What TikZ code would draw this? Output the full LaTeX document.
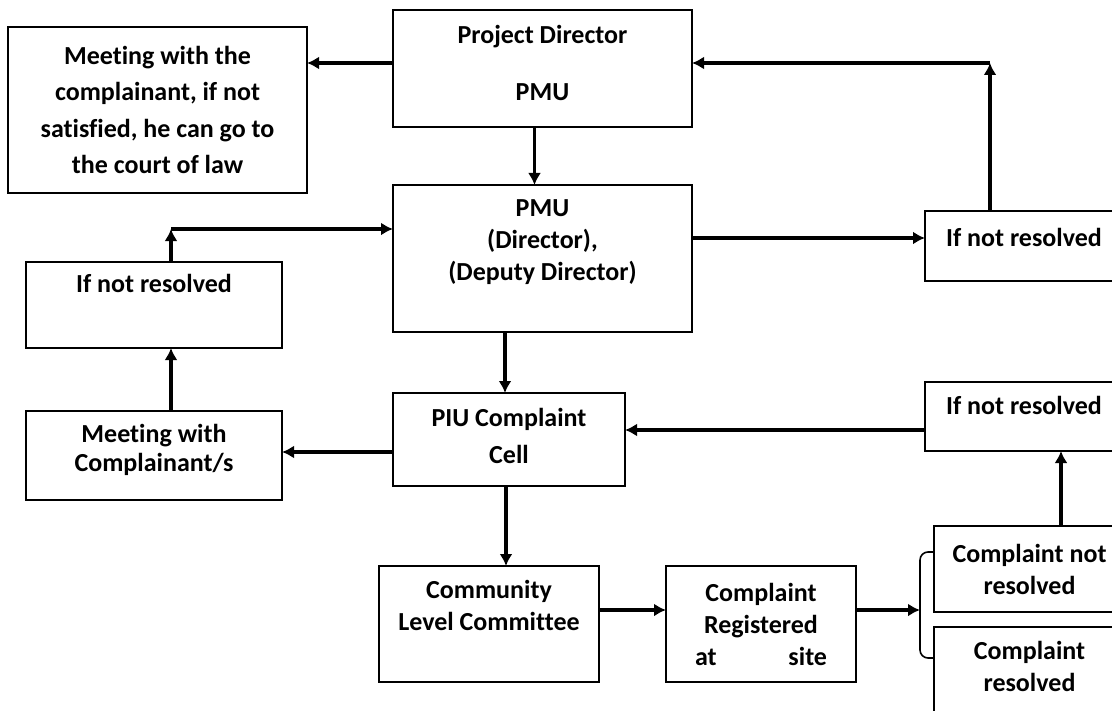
\documentclass[tikz,border=0pt]{standalone}
\usepackage{fontspec}
\setmainfont{Carlito}[Ligatures=NoCommon]
\usepackage{tikz}
\usetikzlibrary{arrows.meta}
\tikzstyle{gbox} = [draw=black, line width=1pt, rectangle, anchor=north west,
    inner sep=2pt, outer sep=0pt, align=center,
    font=\fontsize{13}{16}\selectfont\bfseries]
\tikzstyle{flow} = [line width=1.6pt, -{Latex[length=6pt,width=6.5pt]}]

\begin{document}
\begin{tikzpicture}[x=0.5pt, y=-0.5pt]
    \useasboundingbox (0,0) rectangle (1112,711);
    \clip (0,0) rectangle (1112,711);
    % boxes
    \node [gbox, minimum width=149.5pt, minimum height=83pt] (meet1) at (8,27)
        {Meeting with the\\[2.3pt]complainant, if not\\[2.3pt]satisfied, he can go to\\[2.3pt]the court of law};
    \node [gbox, minimum width=149.5pt, minimum height=58.5pt] (pd) at (393,10)
        {Project Director\\[12.5pt]PMU\\[-10pt]\mbox{}};
    \node [gbox, minimum width=149.5pt, minimum height=73.5pt] (pmu) at (393,185)
        {PMU\\(Director),\\(Deputy Director)\\[2.5pt]\mbox{}};
    \node [gbox, minimum width=99pt, minimum height=35pt] (notres1) at (925,211)
        {If not resolved\\[-7pt]\mbox{}};
    \node [gbox, minimum width=128pt, minimum height=43pt] (notres2) at (26,262)
        {If not resolved\\[6pt]\mbox{}};
    \node [gbox, minimum width=128pt, minimum height=44.5pt] (meet2) at (26,411)
        {Meeting with\\[-1.5pt]Complainant/s\\[-8pt]\mbox{}};
    \node [gbox, minimum width=116pt, minimum height=46.5pt] (piu) at (393,393)
        {PIU Complaint\\[2.5pt]Cell\\[-12pt]\mbox{}};
    \node [gbox, minimum width=99pt, minimum height=34.5pt] (notres3) at (925,382)
        {If not resolved\\[-5pt]\mbox{}};
    \node [gbox, minimum width=110pt, minimum height=58pt] (clc) at (379,566)
        {Community\\Level Committee\\[2.5pt]\mbox{}};
    \node [gbox, minimum width=95pt, minimum height=58pt] (reg) at (666,566)
        {Complaint\\Registered\\\makebox[66pt]{at\hfill site}};
    \node [gbox, minimum width=95.5pt, minimum height=43pt] (notres) at (934,526)
        {Complaint not\\resolved};
    \node [gbox, minimum width=95.5pt, minimum height=46.5pt] (resolved) at (934,627)
        {Complaint\\resolved\\[-8.5pt]\mbox{}};
    % bends
    \coordinate (up1) at (990,63);
    \coordinate (up2) at (171,229);
    \coordinate (up3) at (1061,0);
    \coordinate (brk) at (920,610);
    % arrows
    \draw[flow] (pd.west |- up1) -- (meet1.east |- up1);
    \draw[flow] ([xshift=-4pt]pd.south) -- ([xshift=-4pt]pmu.north);
    \draw[flow] ([yshift=10.25pt]pmu.east) -- ([yshift=10.25pt]pmu.east -| notres1.west);
    \draw[flow] (notres1.north -| up1) -- (up1);
    \draw[flow] (up1) -- (up1 -| pd.east);
    \draw[flow] (notres2.north -| up2) -- (up2);
    \draw[flow] (up2) -- (up2 -| pmu.west);
    \draw[flow] (meet2.north -| up2) -- (notres2.south -| up2);
    \draw[flow] ([yshift=-6.25pt]piu.west) -- ([yshift=-6.25pt]piu.west -| meet2.east);
    \draw[flow] ([xshift=-2pt]piu.north |- pmu.south) -- ([xshift=-2pt]piu.north);
    \draw[flow] ([xshift=-1.5pt]piu.south) -- ([xshift=-1.5pt]piu.south |- clc.north);
    \draw[flow] (clc.east |- brk) -- (reg.west |- brk);
    \draw[flow] (reg.east |- brk) -- (brk);
    \draw[line width=0.8pt, rounded corners=4pt] (notres.west |- 0,552) -- (920,552) -- (920,658) -- (resolved.west |- 0,658);
    \draw[flow] (notres.north -| up3) -- (notres3.south -| up3);
    \draw[flow] ([yshift=-6.75pt]notres3.west) -- ([yshift=-6.75pt]notres3.west -| piu.east);
\end{tikzpicture}
\end{document}
